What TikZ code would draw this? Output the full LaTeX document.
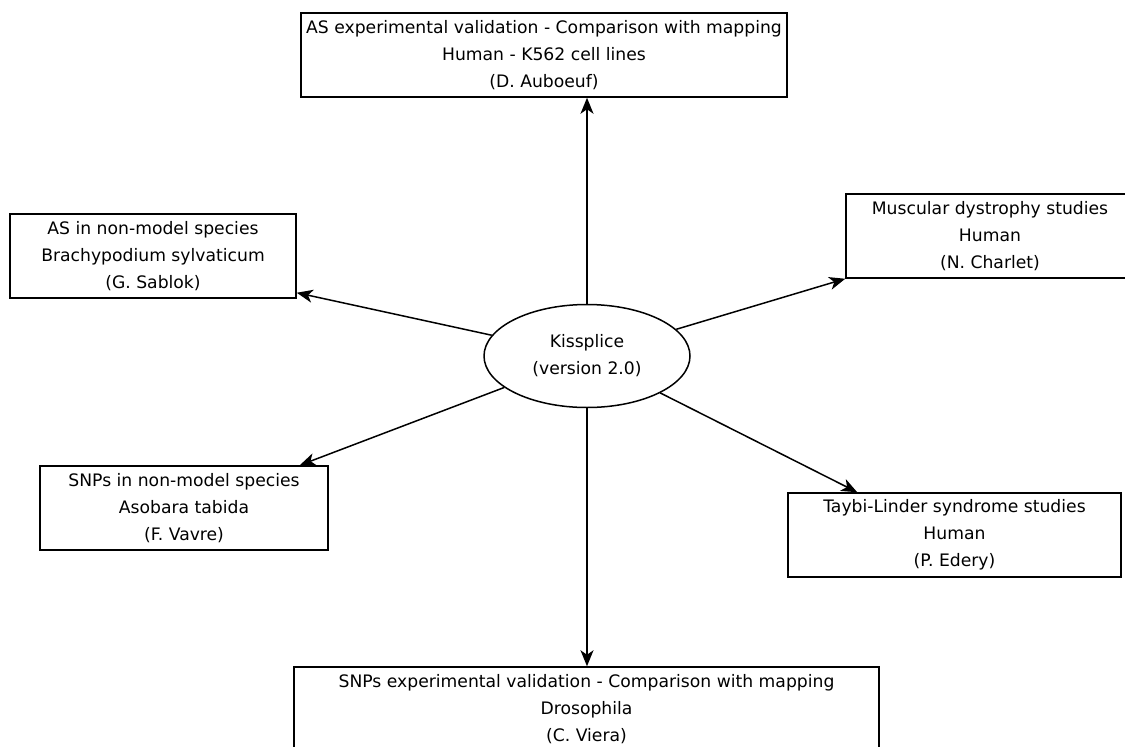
\documentclass[tikz,border=0pt]{standalone}
\usepackage{fontspec}
\setmainfont{DejaVu Sans}
\usetikzlibrary{arrows.meta,calc,shapes.geometric}
\begin{document}
\begin{tikzpicture}[x=1pt,y=-1pt,
  box/.style={draw,line width=1.5pt,rectangle,inner sep=0pt,align=center,
    font=\fontsize{17.2}{27}\selectfont},
  ell/.style={draw,line width=1.5pt,ellipse,inner sep=0pt,align=center,
    minimum width=206pt,minimum height=103pt,font=\fontsize{17.2}{27}\selectfont},
  arr/.style={line width=1.5pt,-{Stealth[length=16pt,width=13pt,inset=4.5pt]}}]
\useasboundingbox (0,0) rectangle (1125,747);
\node[ell] (k) at (587,356) {Kissplice\\(version 2.0)};
\node[box,minimum width=486pt,minimum height=84pt] (top) at (544,55)
  {AS experimental validation - Comparison with mapping\\Human - K562 cell lines\\(D. Auboeuf)};
\node[box,minimum width=288pt,minimum height=84pt] (mu) at (990,236)
  {Muscular dystrophy studies\\Human\\(N. Charlet)};
\node[box,minimum width=286pt,minimum height=84pt] (lt) at (153,256)
  {AS in non-model species\\Brachypodium sylvaticum\\(G. Sablok)};
\node[box,minimum width=288pt,minimum height=84pt] (lb) at (184,508)
  {SNPs in non-model species\\Asobara tabida\\(F. Vavre)};
\node[box,minimum width=333pt,minimum height=84pt] (ty) at (954.5,535)
  {Taybi-Linder syndrome studies\\Human\\(P. Edery)};
\node[box,minimum width=585pt,minimum height=84pt] (bot) at (586.5,709)
  {SNPs experimental validation - Comparison with mapping\\Drosophila\\(C. Viera)};
\coordinate (tT) at (k.north |- top.south);
\coordinate (tB) at (k.south |- bot.north);
\coordinate (tLT) at ($(lt.south east)+(0,-6)$);
\coordinate (tLB) at ($(lb.north east)+(-29,0)$);
\coordinate (tTY) at ($(ty.north west)+(70,0)$);
\draw[arr] (k.north) -- (tT);
\draw[arr] (k.south) -- (tB);
\draw[arr] (k) -- (tLT);
\draw[arr] (k) -- (tLB);
\draw[arr] (k) -- (mu.south west);
\draw[arr] (k) -- (tTY);
\end{tikzpicture}
\end{document}
